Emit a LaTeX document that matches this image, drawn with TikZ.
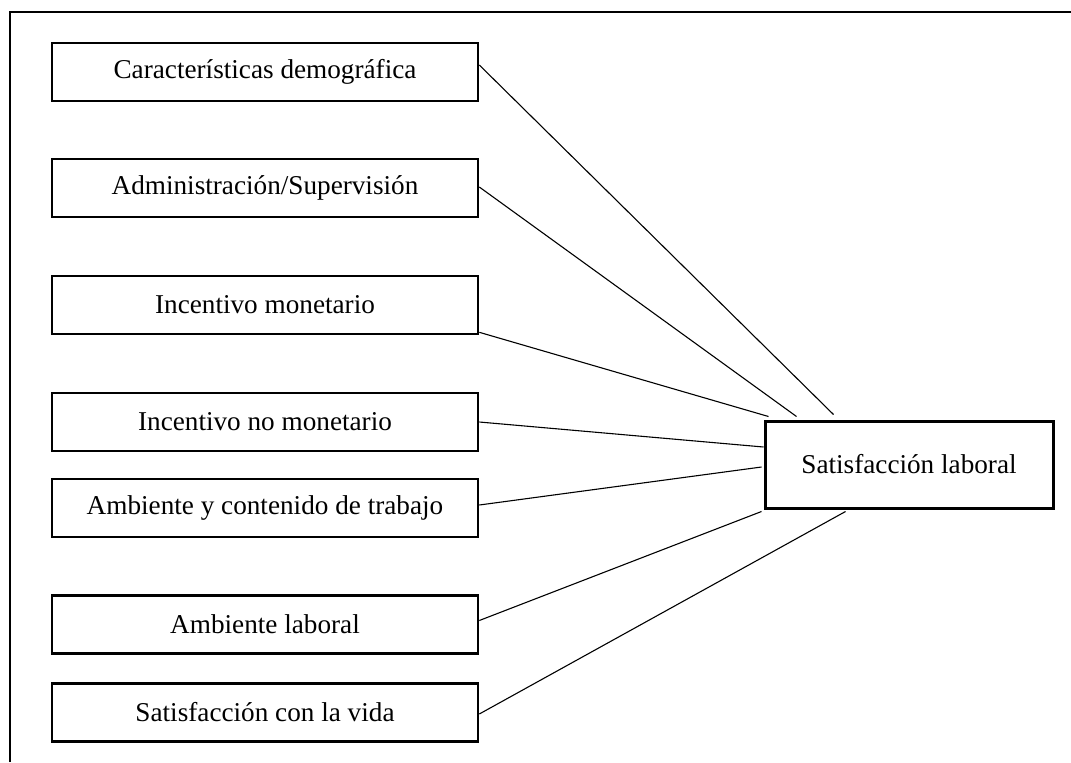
\documentclass[tikz,border=0pt]{standalone}
\usepackage{fontspec}
\setmainfont{Liberation Serif}
\usetikzlibrary{positioning}

\tikzset{
	factor/.style={draw, line width=1.3pt, minimum width=213pt, minimum height=29pt, inner sep=0pt, font=\fontsize{13.6}{16}\selectfont},
	resultado/.style={draw, line width=1.5pt, minimum width=144pt, minimum height=43.5pt, inner sep=0pt, font=\fontsize{13.6}{16}\selectfont},
	enlace/.style={line width=0.55pt}
}

\begin{document}
\begin{tikzpicture}[x=0.5pt,y=-0.5pt]
	\useasboundingbox (0,0) rectangle (1071,762);
	% marco
	\draw[line width=0.9pt] (10,762) -- (10,12) -- (1071,12);
	% factores
	\node[factor] (demo) at (265,72) {Características demográfica};
	\node[factor] (admin) at (265,188) {Administración/Supervisión};
	\node[factor] (incmon) at (265,305) {Incentivo monetario};
	\node[factor] (incnomon) at (265,422) {Incentivo no monetario};
	\node[factor] (contenido) at (265,508) {Ambiente y contenido de trabajo};
	\node[factor] (amblab) at (265,624.5) {Ambiente laboral};
	\node[factor] (vida) at (265,712.5) {Satisfacción con la vida};
	\node[resultado] (satlab) at (909,464.5) {Satisfacción laboral};
	% conexiones
	\draw[enlace] ([yshift=3.5pt]demo.east) -- ([shift={(35pt,2.5pt)}]satlab.north west);
	\draw[enlace] ([yshift=0.5pt]admin.east) -- ([shift={(16.5pt,1.5pt)}]satlab.north west);
	\draw[enlace] ([yshift=1.5pt]incmon.south east) -- ([shift={(2.5pt,1.5pt)}]satlab.north west);
	\draw[enlace] (incnomon.east) -- ([yshift=8.75pt]satlab.west);
	\draw[enlace] ([yshift=1.5pt]contenido.east) -- ([shift={(-1pt,-1.25pt)}]satlab.west);
	\draw[enlace] ([yshift=2pt]amblab.east) -- ([shift={(-1pt,-1pt)}]satlab.south west);
	\draw[enlace] ([yshift=-0.75pt]vida.east) -- ([shift={(41pt,-1pt)}]satlab.south west);
\end{tikzpicture}
\end{document}
